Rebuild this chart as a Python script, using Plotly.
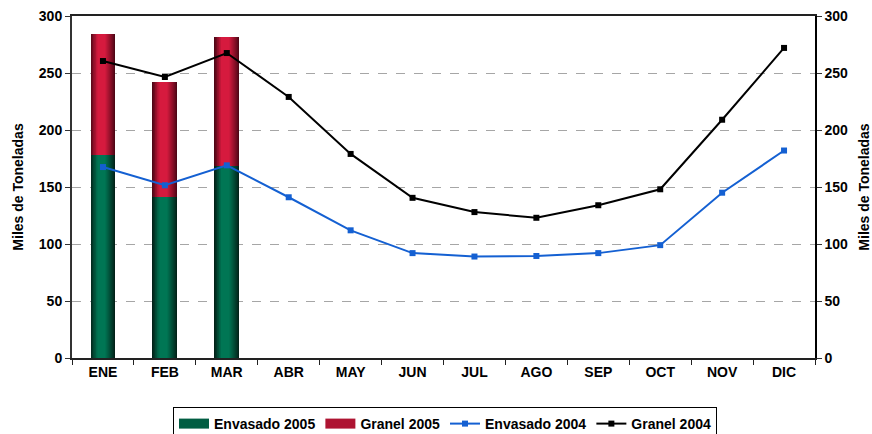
import plotly.graph_objects as go

meses = ["ENE", "FEB", "MAR", "ABR", "MAY", "JUN", "JUL", "AGO", "SEP", "OCT", "NOV", "DIC"]
meses_2005 = ["ENE", "FEB", "MAR"]
envasado_2005 = [178, 141, 168]
granel_2005 = [106, 101, 114]
envasado_2004 = [167.5, 151.5, 169, 141, 112, 92, 89, 89.5, 92, 99, 145, 182]
granel_2004 = [260.5, 246.5, 267.5, 229, 179, 140.5, 128, 123, 134, 148, 209, 272]

FONT = "Arial, Liberation Sans, sans-serif"


def mix(c1, c2, t):
    return "rgb({},{},{})".format(*[round(a + (b - a) * t) for a, b in zip(c1, c2)])


fig = go.Figure()

# Cylinder-like shading for the stacked 2005 bars: nested overlays, dark edge to bright core
N = 14
BAR_W = 0.4
core = -0.04  # bright band sits slightly left of centre
stacks = [
    ("Envasado 2005", envasado_2005, [0] * 3, (2, 34, 24), (0, 118, 84), 1),
    ("Granel 2005", granel_2005, envasado_2005, (80, 6, 22), (214, 26, 62), 2),
]
for name, vals, base, dark, light, rank in stacks:
    for i in range(N):
        t = i / N
        left = -BAR_W / 2 + (BAR_W / 2 + core) * t
        right = BAR_W / 2 - (BAR_W / 2 - core) * t
        fig.add_trace(go.Bar(
            x=meses_2005, y=vals, base=base,
            width=right - left, offset=left,
            marker=dict(color=mix(dark, light, min(1, (t * 1.45) ** 0.9)), line=dict(width=0)),
            name=name, showlegend=False, legendgroup=name,
            hoverinfo="skip" if i else None,
        ))
    # wide swatch for the legend key
    fig.add_trace(go.Scatter(
        x=[None], y=[None], mode="lines", name=name, legendgroup=name, legendrank=rank,
        line=dict(color=mix(dark, light, 0.7), width=10),
    ))

fig.add_trace(go.Scatter(
    x=meses, y=envasado_2004, name="Envasado 2004", mode="lines+markers",
    line=dict(color="#1460d2", width=2), marker=dict(symbol="square", size=6, color="#1460d2"),
    legendrank=3, yaxis="y2",
))
fig.add_trace(go.Scatter(
    x=meses, y=granel_2004, name="Granel 2004", mode="lines+markers",
    line=dict(color="#000000", width=2), marker=dict(symbol="square", size=6, color="#000000"),
    legendrank=4, yaxis="y2",
))

yax = dict(
    range=[0, 300], tickvals=[0, 50, 100, 150, 200, 250, 300],
    showgrid=True, gridcolor="#a6a6a6", griddash="dash", gridwidth=1,
    showline=True, linecolor="#333333", linewidth=2,
    ticks="outside", ticklen=5, tickcolor="#333333",
    tickfont=dict(family=FONT, size=14, color="#000000", weight="bold"),
    title=dict(text="Miles de Toneladas", font=dict(family=FONT, size=14, color="#000000", weight="bold"), standoff=12),
    zeroline=False, fixedrange=True, automargin=False,
)

fig.update_layout(
    width=872, height=434,
    margin=dict(l=72, r=57, t=16, b=76),
    paper_bgcolor="white", plot_bgcolor="white",
    barmode="overlay", bargap=0,
    font=dict(family=FONT, color="#000000"),
    xaxis=dict(
        type="category", categoryorder="array", categoryarray=meses,
        range=[-0.5, len(meses) - 0.5],
        showline=True, linecolor="#222222", linewidth=1.5, mirror=True,
        ticks="outside", tickson="boundaries", ticklen=5, tickcolor="#222222",
        tickfont=dict(family=FONT, size=14, color="#000000", weight="bold"),
        showgrid=False, automargin=False,
    ),
    yaxis=dict(yax, side="left"),
    yaxis2=dict(yax, side="right", overlaying="y", showgrid=False, linecolor="#000000", linewidth=1.5),
    legend=dict(
        orientation="h", x=445 / 872, xanchor="center", xref="container",
        y=1 - 407 / 434, yanchor="top", yref="container",
        bordercolor="#000000", borderwidth=1, bgcolor="white",
        font=dict(family=FONT, size=14, color="#000000", weight="bold"),
        traceorder="normal", itemwidth=30, tracegroupgap=0,
    ),
    showlegend=True,
)

fig.write_html("out.html")
